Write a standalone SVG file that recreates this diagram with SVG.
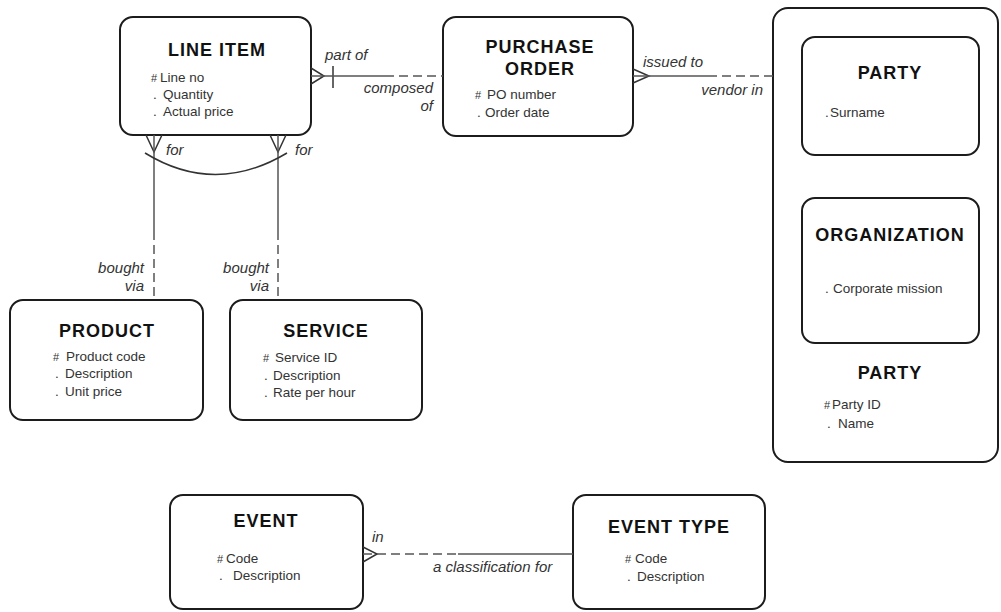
<svg xmlns="http://www.w3.org/2000/svg" width="1001" height="612" viewBox="0 0 1001 612">
  <style>
    .box { fill: #fff; stroke: #1c1c1c; stroke-width: 2; }
    .title { font-family: "Liberation Sans", Arial, sans-serif; font-weight: bold; font-size: 18px; letter-spacing: 1px; fill: #111; text-anchor: middle; }
    .attr { font-family: "Liberation Sans", Arial, sans-serif; font-size: 13.5px; fill: #333; }
    .hash { font-size: 11px; }
    .lbl { font-family: "Liberation Sans", Arial, sans-serif; font-style: italic; font-size: 15px; fill: #333; }
    .end { text-anchor: end; }
    .rel { fill: none; stroke: #555; stroke-width: 1.5; }
    .dash { stroke-dasharray: 9 5; }
    .crow { fill: none; stroke: #333; stroke-width: 1.5; }
  </style>

  <rect width="1001" height="612" fill="#fff"/>

  <!-- supertype PARTY with its subtypes -->
  <g id="party">
    <rect class="box" x="773" y="8" width="225" height="454" rx="15"/>
    <text class="title" x="890" y="379">PARTY</text>
    <text class="attr" x="824" y="409"><tspan class="hash">#</tspan><tspan x="832">Party ID</tspan></text>
    <text class="attr" x="827" y="428">.<tspan x="838">Name</tspan></text>
  </g>
  <g id="person">
    <rect class="box" x="802" y="37" width="177" height="118" rx="13"/>
    <text class="title" x="890" y="79">PARTY</text>
    <text class="attr" x="825" y="117">.<tspan x="830">Surname</tspan></text>
  </g>
  <g id="organization">
    <rect class="box" x="802" y="198" width="177" height="145" rx="13"/>
    <text class="title" x="890" y="241">ORGANIZATION</text>
    <text class="attr" x="825" y="293">.<tspan x="833">Corporate mission</tspan></text>
  </g>

  <g id="line-item">
    <rect class="box" x="120" y="17" width="191" height="118" rx="13"/>
    <text class="title" x="217" y="56">LINE ITEM</text>
    <text class="attr" x="151" y="82"><tspan class="hash">#</tspan><tspan x="160">Line no</tspan></text>
    <text class="attr" x="153" y="99">.<tspan x="163">Quantity</tspan></text>
    <text class="attr" x="153" y="116">.<tspan x="163">Actual price</tspan></text>
  </g>

  <g id="purchase-order">
    <rect class="box" x="443" y="17" width="190" height="119" rx="13"/>
    <text class="title" x="540" y="53">PURCHASE</text>
    <text class="title" x="540" y="75">ORDER</text>
    <text class="attr" x="475" y="99"><tspan class="hash">#</tspan><tspan x="487">PO number</tspan></text>
    <text class="attr" x="477" y="117">.<tspan x="485">Order date</tspan></text>
  </g>

  <g id="product">
    <rect class="box" x="10" y="300" width="193" height="120" rx="13"/>
    <text class="title" x="107" y="337">PRODUCT</text>
    <text class="attr" x="53" y="361"><tspan class="hash">#</tspan><tspan x="66">Product code</tspan></text>
    <text class="attr" x="55" y="378">.<tspan x="65">Description</tspan></text>
    <text class="attr" x="55" y="396">.<tspan x="65">Unit price</tspan></text>
  </g>

  <g id="service">
    <rect class="box" x="230" y="300" width="192" height="120" rx="13"/>
    <text class="title" x="326" y="337">SERVICE</text>
    <text class="attr" x="263" y="362"><tspan class="hash">#</tspan><tspan x="275">Service ID</tspan></text>
    <text class="attr" x="264" y="380">.<tspan x="273">Description</tspan></text>
    <text class="attr" x="264" y="397">.<tspan x="273">Rate per hour</tspan></text>
  </g>

  <g id="event">
    <rect class="box" x="170" y="495" width="193" height="114" rx="13"/>
    <text class="title" x="266" y="527">EVENT</text>
    <text class="attr" x="217" y="563"><tspan class="hash">#</tspan><tspan x="226">Code</tspan></text>
    <text class="attr" x="219" y="580">.<tspan x="233">Description</tspan></text>
  </g>

  <g id="event-type">
    <rect class="box" x="573" y="495" width="192" height="114" rx="13"/>
    <text class="title" x="669" y="533">EVENT TYPE</text>
    <text class="attr" x="625" y="563"><tspan class="hash">#</tspan><tspan x="635">Code</tspan></text>
    <text class="attr" x="627" y="581">.<tspan x="637">Description</tspan></text>
  </g>

  <g id="connectors">
    <!-- LINE ITEM part of PURCHASE ORDER -->
    <path class="crow" d="M311,68 L324,76 L311,84"/>
    <path class="crow" d="M333,66 V88"/>
    <path class="rel" d="M311,76 H385"/>
    <path class="rel dash" d="M385,76 H443"/>
    <text class="lbl" x="325" y="60">part of</text>
    <text class="lbl end" x="433" y="93">composed</text>
    <text class="lbl end" x="433" y="111">of</text>

    <!-- PURCHASE ORDER issued to PARTY -->
    <path class="crow" d="M633,69 L649,76 L633,83"/>
    <path class="rel" d="M633,76 H708"/>
    <path class="rel dash" d="M708,76 H773"/>
    <text class="lbl" x="643" y="67">issued to</text>
    <text class="lbl end" x="763" y="95">vendor in</text>

    <!-- LINE ITEM for PRODUCT -->
    <path class="crow" d="M146,135 L154,152 L162,135"/>
    <path class="rel" d="M154,135 V231"/>
    <path class="rel dash" d="M154,231 V300"/>
    <text class="lbl" x="166" y="155">for</text>
    <text class="lbl end" x="144" y="273">bought</text>
    <text class="lbl end" x="144" y="291">via</text>

    <!-- LINE ITEM for SERVICE -->
    <path class="crow" d="M270,135 L278,152 L286,135"/>
    <path class="rel" d="M278,135 V231"/>
    <path class="rel dash" d="M278,231 V300"/>
    <text class="lbl" x="295" y="155">for</text>
    <text class="lbl end" x="269" y="273">bought</text>
    <text class="lbl end" x="269" y="291">via</text>

    <!-- exclusive arc across the two relationships -->
    <path class="crow" d="M145,153 Q215,196 287,153"/>

    <!-- EVENT classified by EVENT TYPE -->
    <path class="crow" d="M363,547 L377,554 L363,562"/>
    <path class="rel dash" d="M363,554 H458"/>
    <path class="rel" d="M458,554 H573"/>
    <text class="lbl" x="372" y="542">in</text>
    <text class="lbl" x="433" y="572">a classification for</text>
  </g>
</svg>
